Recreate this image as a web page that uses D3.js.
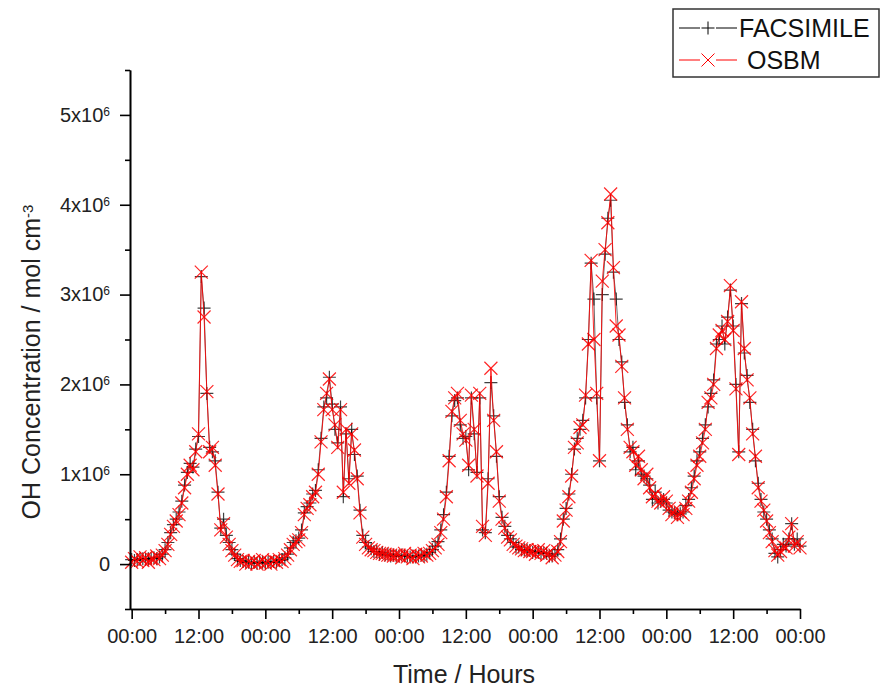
<!DOCTYPE html>
<html>
<head>
<meta charset="utf-8">
<script src="https://cdn.jsdelivr.net/npm/d3@7/dist/d3.min.js"></script>
<style>
  body { margin: 0; background: #fff; }
  svg { font-family: Arial, "Liberation Sans", sans-serif; }
</style>
</head>
<body>
<svg id="chart" width="881" height="688"></svg>
<script>
// OH concentration, half-hourly, in units of 1e6 mol cm-3 (one array per day)
var hourStep = 0.5;

var osbmDay1 = [0.02,0.06,0.03,0.08,0.04,0.07,0.02,0.06,0.05,0.09,0.06,0.10,
                0.15,0.22,0.33,0.42,0.48,0.55,0.68,0.85,1.00,1.10,1.05,1.25,
                1.45,3.25,2.75,1.92,1.25,1.30,1.10,0.78,0.38,0.45,0.30,0.22,
                0.15,0.10,0.05,0.03,0.04,0.00,0.03,0.01,0.04,0.00,0.02,0.05];
var osbmDay2 = [0.01,0.03,0.00,0.04,0.02,0.05,0.03,0.06,0.10,0.16,0.22,0.25,
                0.27,0.35,0.55,0.62,0.66,0.75,0.80,1.00,1.36,1.72,1.90,2.06,
                1.72,1.55,1.30,1.72,0.80,1.50,0.90,1.45,1.27,0.95,0.57,0.30,
                0.22,0.18,0.16,0.15,0.13,0.12,0.12,0.11,0.10,0.10,0.09,0.10];
var osbmDay3 = [0.10,0.07,0.12,0.08,0.10,0.06,0.11,0.08,0.09,0.12,0.10,0.12,
                0.15,0.18,0.22,0.35,0.50,0.75,1.15,1.70,1.85,1.90,1.60,1.45,
                1.38,1.10,1.88,1.50,0.98,1.90,0.42,0.32,0.90,2.18,1.60,1.25,
                0.70,0.50,0.40,0.30,0.27,0.22,0.20,0.18,0.17,0.15,0.16,0.14];
var osbmDay4 = [0.14,0.11,0.16,0.12,0.15,0.10,0.13,0.07,0.10,0.14,0.25,0.48,
                0.60,0.75,0.98,1.30,1.35,1.52,1.55,1.88,2.45,3.38,2.50,1.90,
                1.15,3.15,3.50,3.80,4.12,3.30,2.65,2.55,2.20,1.85,1.50,1.30,
                1.25,1.10,1.20,1.05,0.95,1.00,0.85,0.75,0.78,0.70,0.68,0.75];
var osbmDay5 = [0.70,0.62,0.55,0.60,0.52,0.58,0.55,0.62,0.70,0.80,0.95,1.10,
                1.20,1.35,1.50,1.80,1.85,2.00,2.40,2.55,2.60,2.50,2.70,3.10,
                2.60,1.95,1.22,2.92,2.40,2.05,1.85,1.45,1.20,0.85,0.70,0.60,
                0.48,0.35,0.25,0.15,0.10,0.14,0.20,0.18,0.30,0.45,0.20,0.25,0.18];

var facsDay1 = [0.05,0.04,0.05,0.05,0.06,0.05,0.06,0.06,0.07,0.06,0.08,0.11,
                0.16,0.24,0.35,0.44,0.50,0.58,0.70,0.88,1.02,1.12,1.08,1.28,
                1.42,3.20,2.85,1.90,1.30,1.25,1.15,0.80,0.40,0.50,0.32,0.24,
                0.16,0.11,0.06,0.04,0.03,0.02,0.02,0.01,0.02,0.01,0.02,0.02];
var facsDay2 = [0.01,0.02,0.02,0.03,0.02,0.04,0.05,0.07,0.11,0.18,0.24,0.26,
                0.29,0.38,0.57,0.64,0.68,0.78,0.82,1.05,1.40,1.75,1.85,2.08,
                1.78,1.50,1.35,1.75,0.75,1.45,0.95,1.50,1.22,0.98,0.60,0.32,
                0.24,0.19,0.17,0.14,0.14,0.11,0.13,0.10,0.11,0.09,0.10,0.09];
var facsDay3 = [0.09,0.10,0.09,0.09,0.08,0.09,0.08,0.09,0.10,0.09,0.11,0.13,
                0.16,0.20,0.25,0.38,0.55,0.80,1.20,1.65,1.82,1.85,1.55,1.40,
                1.42,1.05,1.85,1.45,1.02,1.85,0.38,0.35,0.95,2.02,1.65,1.20,
                0.75,0.52,0.42,0.32,0.28,0.24,0.19,0.19,0.16,0.16,0.15,0.15];
var facsDay4 = [0.13,0.14,0.13,0.13,0.12,0.12,0.09,0.09,0.11,0.16,0.28,0.50,
                0.62,0.78,1.00,1.28,1.40,1.50,1.60,1.85,2.50,3.35,2.95,1.85,
                1.15,3.00,3.45,3.85,4.05,3.25,2.95,2.50,2.25,1.80,1.55,1.25,
                1.30,1.05,1.15,1.00,0.98,0.95,0.88,0.72,0.80,0.68,0.70,0.72];
var facsDay5 = [0.68,0.60,0.58,0.57,0.55,0.56,0.58,0.65,0.72,0.85,0.98,1.15,
                1.25,1.40,1.55,1.75,1.90,2.05,2.45,2.50,2.65,2.45,2.75,3.05,
                2.65,2.00,1.25,2.90,2.35,2.10,1.80,1.50,1.15,0.90,0.72,0.58,
                0.50,0.38,0.28,0.12,0.08,0.16,0.22,0.20,0.28,0.45,0.22,0.28,0.20];

var xTickLabels = ["00:00","12:00","00:00","12:00","00:00","12:00",
                   "00:00","12:00","00:00","12:00","00:00"];
var yTickValues = [0, 1, 2, 3, 4, 5];
var legendNames = ["FACSIMILE", "OSBM"];

// turn the per-day arrays into {t, v} points
function buildSeries(days) {
    var pts = [];
    days.forEach(function (day, d) {
        day.forEach(function (v, i) {
            pts.push({ t: d * 24 + i * hourStep, v: v });
        });
    });
    return pts;
}

var facsimile = buildSeries([facsDay1, facsDay2, facsDay3, facsDay4, facsDay5]);
var osbm = buildSeries([osbmDay1, osbmDay2, osbmDay3, osbmDay4, osbmDay5]);

var svg = d3.select("#chart");

var x = d3.scaleLinear().domain([-0.3, 120]).range([130, 800]);
var y = d3.scaleLinear().domain([-0.5, 5.5]).range([609, 70]);

var plusPath = "M-6.5,0H6.5M0,-6.5V6.5";
var crossPath = "M-6.5,-6.5L6.5,6.5M6.5,-6.5L-6.5,6.5";

var line = d3.line()
    .x(function (d) { return x(d.t); })
    .y(function (d) { return y(d.v); });

// Draw one series: connecting line then markers
function drawSeries(data, color, marker, lineWidth, markerWidth, opacity) {
    var g = svg.append("g");
    g.append("path")
        .datum(data)
        .attr("d", line)
        .attr("fill", "none")
        .attr("stroke", color)
        .attr("stroke-width", lineWidth)
        .attr("stroke-opacity", opacity);
    g.selectAll("path.marker")
        .data(data)
        .enter()
        .append("path")
        .attr("class", "marker")
        .attr("d", marker)
        .attr("transform", function (d) { return "translate(" + x(d.t) + "," + y(d.v) + ")"; })
        .attr("fill", "none")
        .attr("stroke", color)
        .attr("stroke-width", markerWidth)
        .attr("stroke-opacity", opacity);
}

drawSeries(facsimile, "#000", plusPath, 0.8, 1.2, 0.75);
drawSeries(osbm, "#ff0000", crossPath, 1, 1.2, 0.85);

// X axis: major ticks every 12 h, minor every 6 h
var xMinor = svg.append("g")
    .attr("transform", "translate(0,609)")
    .call(d3.axisBottom(x).tickValues(d3.range(6, 121, 12)).tickSize(5).tickSizeOuter(0).tickFormat(""));
var xMajor = svg.append("g")
    .attr("transform", "translate(0,609)")
    .call(d3.axisBottom(x).tickValues(d3.range(0, 121, 12)).tickSize(10).tickSizeOuter(0).tickPadding(10)
        .tickFormat(function (d, i) { return xTickLabels[i]; }));

// Y axis: major ticks on integers, minor on halves
var yMinor = svg.append("g")
    .attr("transform", "translate(130,0)")
    .call(d3.axisLeft(y).tickValues(d3.range(-0.5, 5.6, 1)).tickSize(5).tickSizeOuter(0).tickFormat(""));
var yMajor = svg.append("g")
    .attr("transform", "translate(130,0)")
    .call(d3.axisLeft(y).tickValues(yTickValues).tickSize(10).tickSizeOuter(0).tickPadding(10));

yMajor.selectAll(".tick text").each(function (d) {
    var t = d3.select(this);
    t.text(null);
    if (d === 0) {
        t.text("0");
        return;
    }
    t.append("tspan").text(d + "x10");
    t.append("tspan").attr("dy", "-0.5em").attr("font-size", "12px").text("6");
});

[xMinor, xMajor, yMinor, yMajor].forEach(function (g) {
    g.selectAll("path.domain").attr("stroke", "#000").attr("stroke-width", 1.6);
    g.selectAll(".tick line").attr("stroke", "#000").attr("stroke-width", 1.6);
    g.selectAll(".tick text").attr("font-size", "20px").attr("fill", "#222")
        .attr("font-family", "Arial, 'Liberation Sans', sans-serif");
});

// Axis titles
svg.append("text")
    .attr("x", 464)
    .attr("y", 683)
    .attr("text-anchor", "middle")
    .attr("font-size", "25px")
    .attr("fill", "#222")
    .text("Time / Hours");

var yTitle = svg.append("text")
    .attr("transform", "translate(40,362) rotate(-90)")
    .attr("text-anchor", "middle")
    .attr("font-size", "25px")
    .attr("fill", "#222");
yTitle.append("tspan").text("OH Concentration / mol cm");
yTitle.append("tspan").attr("dy", "-0.5em").attr("font-size", "15px").text("-3");

// Legend
var legend = svg.append("g");
legend.append("rect")
    .attr("x", 673).attr("y", 9)
    .attr("width", 206).attr("height", 68)
    .attr("fill", "#fff")
    .attr("stroke", "#333")
    .attr("stroke-width", 1.5);

var legendItems = [
    { name: legendNames[0], color: "#000", marker: plusPath, y: 28, textX: 739 },
    { name: legendNames[1], color: "#ff0000", marker: crossPath, y: 60, textX: 747 }
];

legendItems.forEach(function (item) {
    legend.append("path")
        .attr("d", "M679," + item.y + "H700M716," + item.y + "H737")
        .attr("stroke", item.color)
        .attr("stroke-width", 1);
    legend.append("path")
        .attr("d", item.marker)
        .attr("transform", "translate(708," + item.y + ")")
        .attr("fill", "none")
        .attr("stroke", item.color)
        .attr("stroke-width", 1);
    legend.append("text")
        .attr("x", item.textX)
        .attr("y", item.y + 9)
        .attr("font-size", "25px")
        .attr("fill", "#111")
        .text(item.name);
});
</script>
</body>
</html>
